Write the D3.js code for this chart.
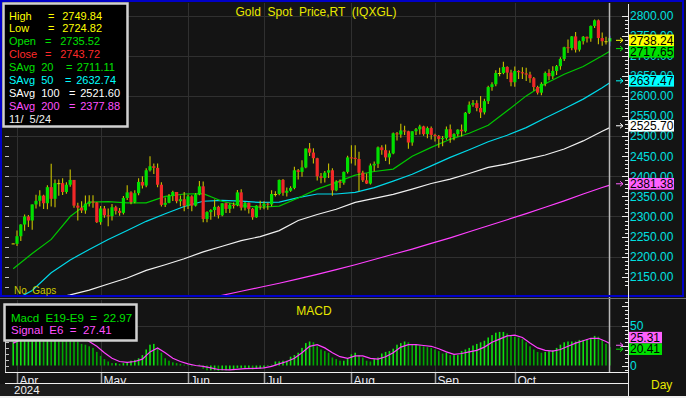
<!DOCTYPE html>
<html>
<head>
<meta charset="utf-8">
<script src="https://cdn.jsdelivr.net/npm/d3@7"></script>
<style>
html, body { margin: 0; padding: 0; background: #f0f0f0; }
svg { display: block; font-family: "Liberation Sans", Arial, sans-serif; }
</style>
</head>
<body>
<div id="chart"></div>
<script>
// ---- data (bar 0 = Mar 29, then trading days Apr 1 .. Nov 5 2024) ----
const monthNames = ["Apr", "May", "Jun", "Jul", "Aug", "Sep", "Oct", "Nov"];
const monthDays = [22, 23, 20, 23, 22, 21, 23, 3];

const open = [2233,
  2232,2251,2280,2300,2290,2330,2339,2352,2333,2373,2344,2383,2383,2361,2379,2391,2327,2322,2315,2332,2337,2335,
  2286,2320,2303,2301,2323,2314,2309,2346,2360,2336,2358,2386,2377,2415,2425,2421,2379,2329,2334,2351,2361,2338,2343,
  2327,2350,2327,2355,2375,2294,2311,2316,2324,2303,2333,2319,2329,2328,2360,2322,2334,2319,2298,2327,
  2326,2332,2330,2356,2356,2391,2359,2364,2371,2415,2411,2422,2469,2459,2445,2400,2396,2409,2415,2365,2387,2384,2411,
  2447,2446,2443,2409,2390,2382,2427,2431,2472,2465,2447,2457,2507,2504,2514,2512,2484,2512,2517,2524,2505,2520,
  2503,2500,2493,2495,2517,2497,2505,2516,2512,2558,2578,2582,2570,2559,2587,2622,2629,2657,2657,2672,2658,
  2634,2662,2659,2656,2653,2644,2622,2608,2630,2657,2649,2662,2674,2692,2721,2719,2748,2715,2736,2747,2743,2774,2788,
  2744,2736,2735.52];
const high = [2233,
  2265,2281,2305,2304,2330,2354,2365,2354,2378,2431,2392,2392,2395,2385,2417,2391,2334,2338,2352,2353,2353,2336,
  2326,2326,2320,2331,2327,2321,2351,2378,2363,2365,2395,2400,2420,2450,2432,2432,2385,2347,2356,2364,2361,2352,2361,
  2354,2353,2358,2388,2387,2313,2318,2342,2327,2333,2334,2333,2335,2366,2368,2336,2335,2321,2328,2339,
  2338,2335,2365,2363,2392,2393,2372,2375,2424,2418,2440,2469,2483,2470,2446,2408,2413,2432,2420,2390,2392,2412,2451,
  2477,2477,2461,2414,2407,2432,2437,2474,2477,2479,2464,2509,2510,2531,2526,2513,2512,2520,2528,2526,2524,2524,
  2506,2503,2500,2524,2529,2507,2517,2529,2560,2586,2590,2589,2600,2593,2625,2634,2664,2670,2685,2674,2665,
  2673,2664,2671,2670,2660,2647,2625,2634,2661,2666,2674,2677,2696,2722,2740,2749,2759,2738,2749,2748,2775,2790,2790,
  2758,2747,2749.84];
const low = [2233,
  2228,2240,2266,2275,2268,2321,2326,2320,2319,2326,2324,2353,2355,2358,2375,2323,2291,2310,2308,2326,2323,2285,
  2281,2298,2277,2291,2306,2303,2306,2342,2332,2334,2354,2371,2374,2413,2407,2374,2326,2325,2334,2340,2334,2327,2314,
  2320,2314,2326,2354,2287,2287,2293,2301,2296,2302,2310,2310,2321,2327,2316,2316,2309,2293,2298,2318,
  2319,2318,2327,2351,2354,2353,2351,2363,2369,2393,2400,2421,2452,2433,2391,2384,2386,2397,2353,2364,2372,2380,2408,
  2433,2428,2364,2387,2382,2381,2414,2422,2455,2439,2431,2456,2490,2497,2504,2470,2477,2504,2505,2502,2496,2493,
  2488,2472,2476,2492,2485,2491,2500,2500,2510,2556,2574,2563,2546,2555,2581,2614,2625,2650,2655,2643,2625,
  2624,2643,2643,2638,2634,2614,2605,2603,2625,2640,2643,2653,2666,2688,2708,2715,2709,2712,2729,2734,2736,2770,2730,
  2726,2729,2724.82];
const close = [2233,
  2251,2280,2300,2290,2330,2339,2352,2333,2373,2344,2383,2383,2361,2379,2391,2327,2322,2315,2332,2337,2335,2286,
  2320,2303,2301,2323,2314,2309,2346,2360,2336,2358,2386,2377,2415,2425,2421,2379,2329,2334,2351,2361,2338,2343,2327,
  2350,2327,2355,2375,2294,2311,2316,2324,2303,2333,2319,2329,2328,2360,2322,2334,2319,2298,2327,2326,
  2332,2330,2356,2356,2391,2359,2364,2371,2415,2411,2422,2469,2459,2445,2400,2396,2409,2415,2365,2387,2384,2411,2447,
  2446,2443,2409,2390,2382,2427,2431,2472,2465,2447,2457,2507,2504,2514,2512,2484,2512,2517,2524,2505,2520,2503,
  2500,2493,2495,2517,2497,2505,2516,2512,2558,2578,2582,2570,2559,2587,2622,2629,2657,2657,2672,2658,2634,
  2662,2659,2656,2653,2644,2622,2608,2630,2657,2649,2662,2674,2692,2721,2719,2748,2715,2736,2747,2743,2774,2788,2744,
  2736,2736,2743.72];

// moving averages at these bars
const maBar = [0,5,10,15,20,25,30,35,40,45,50,55,60,65,70,75,80,85,90,95,100,105,110,115,120,125,130,135,140,145,150,155,157];
const sma20  = [2170,2208,2243,2300,2336,2337,2334,2334,2350,2356,2357,2338,2327,2323,2326,2346,2368,2385,2403,2412,2418,2450,2472,2492,2507,2527,2563,2600,2630,2654,2673,2700,2711];
const sma50  = [2090,2116,2160,2192,2218,2243,2265,2288,2307,2325,2338,2340,2338,2335,2336,2347,2356,2356,2360,2372,2388,2405,2426,2447,2466,2486,2502,2521,2545,2568,2592,2620,2633];
const sma100 = [2075,2085,2095,2105,2117,2132,2147,2166,2180,2195,2212,2226,2240,2250,2265,2290,2305,2318,2335,2345,2355,2368,2382,2393,2407,2422,2431,2442,2453,2468,2488,2512,2521];
const sma200 = [2030,2035,2041,2047,2053,2059,2066,2073,2080,2087,2094,2104,2114,2124,2134,2145,2156,2168,2180,2193,2206,2219,2233,2247,2262,2277,2292,2307,2323,2339,2356,2372,2378];

// MACD histogram, one value per bar
const macd = [30,
  32,36,40,42,45,47,48,46,46,44,44,43,42,41,40,35,30,27,26,24,22,17,
  12,8,5,3,3,2,3,4,6,7,9,13,20,26,27,22,16,9,6,4,3,2,1,
  0,-1,0,1,-4,-6,-6,-6,-7,-6,-6,-5,-5,-3,-3,-3,-3,-5,-4,-4,
  -3,0,1,5,5,6,6,11,13,16,22,28,30,29,24,20,18,16,10,8,6,6,9,
  14,16,13,10,6,5,8,10,15,17,18,21,26,28,30,29,26,26,25,24,23,22,
  20,18,15,16,13,13,13,18,20,22,25,27,29,31,35,38,41,42,42,40,37,
  36,35,33,29,24,20,17,16,17,18,19,22,26,29,30,30,30,32,32,33,34,37,36,
  32,27,23];
// signal line at these bars
const sigBar = [0,4,8,12,16,18,20,22,24,26,28,30,32,34,36,38,40,42,44,46,48,50,52,54,57,61,64,66,68,70,72,74,76,78,80,82,84,86,88,90,92,94,96,98,100,102,104,106,108,110,112,114,116,118,120,122,124,126,128,130,132,134,136,138,140,142,144,146,148,150,152,154,156,157];
const signal = [28,37,44,45,40,36,30,24,16,9,5,4,5,8,17,22,16,9,5,2,0,-1,-3,-5,-5.5,-4,-3.5,-3,-1,2,5,9,16,24,26,22,16,11,9,12,12,9,8,11,16,23,26,26,25,24,21,17,14,15,17,19,23,29,33,37,38,35,28,22,19,18,20,24,28,31,34,34,30,27.4];

// legend rows: label, value, colour, x of "=", right edge of value
const legendRows = [
  ["High", "2749.84", "#ffff00", 48, 102],
  ["Low", "2724.82", "#ffff00", 48, 102],
  ["Open", "2735.52", "#00e000", 45, 100],
  ["Close", "2743.72", "#ff2a2a", 45, 100],
  ["SAvg  20", "2711.11", "#00e000", 66, 115],
  ["SAvg  50", "2632.74", "#00ffff", 65, 116],
  ["SAvg  100", "2521.60", "#ffffff", 69, 120],
  ["SAvg  200", "2377.88", "#ff50ff", 69, 120]
];
const legendDate = "11/  5/24";
const priceTags = [[2738.24, "#ffff00"], [2717.65, "#00e000"], [2637.47, "#00ffff"], [2525.70, "#ffffff"], [2381.38, "#ff60ff"]];
const macdTags = [[25.31, "#ff60ff"], [20.41, "#00e000"]];

// ---- layout ----
const W = 686, H = 398;
const axisX = 628;
const x = d3.scaleLinear().domain([0, 157]).range([13.2, 609.8]);
const y = d3.scaleLinear().domain([2150, 2800]).range([276.8, 15.5]);
const ym = d3.scaleLinear().domain([0, 50]).range([365.5, 325.5]);

const monthStart = [];
let acc = 1;
monthDays.forEach((n, j) => { monthStart.push({ name: monthNames[j], bar: acc }); acc += n; });
const shownMonths = monthStart.slice(0, 7);

const svg = d3.select("#chart").append("svg").attr("width", W).attr("height", H);
svg.append("rect").attr("width", W).attr("height", H).attr("fill", "#f0f0f0");
svg.append("rect").attr("width", W).attr("height", 396).attr("fill", "#141414");

const defs = svg.append("defs");
defs.append("clipPath").attr("id", "mainClip").append("rect").attr("x", 3).attr("y", 3).attr("width", 620).attr("height", 292);
defs.append("clipPath").attr("id", "macdClip").append("rect").attr("x", 6).attr("y", 300).attr("width", 618).attr("height", 71);
defs.append("clipPath").attr("id", "axisClip").append("rect").attr("x", 6).attr("y", 373).attr("width", 620).attr("height", 10);

// grid
const grid = svg.append("g").attr("stroke", "#303030").attr("stroke-width", 1);
d3.range(2200, 2801, 100).forEach(v => {
  grid.append("line").attr("x1", 6).attr("x2", axisX).attr("y1", Math.round(y(v)) + 0.5).attr("y2", Math.round(y(v)) + 0.5);
});
grid.append("line").attr("x1", 6).attr("x2", axisX).attr("y1", Math.round(ym(50)) + 0.5).attr("y2", Math.round(ym(50)) + 0.5);
shownMonths.forEach(m => {
  const gx = Math.round(x(m.bar)) + 0.5;
  grid.append("line").attr("x1", gx).attr("x2", gx).attr("y1", 3).attr("y2", 295);
  grid.append("line").attr("x1", gx).attr("x2", gx).attr("y1", 300).attr("y2", 372);
});

// moving averages
const maLine = vals => d3.line().x((d, j) => x(maBar[j])).y(d => y(d))(vals);
const maG = svg.append("g").attr("clip-path", "url(#mainClip)").attr("fill", "none").attr("stroke-width", 1.2);
[[sma200, "#ff40ff"], [sma100, "#f0f0f0"], [sma50, "#00d8e8"], [sma20, "#00c800"]].forEach(([vals, c]) => {
  maG.append("path").attr("d", maLine(vals)).attr("stroke", c);
});

// candles
const bars = d3.range(close.length);
const lastBar = close.length - 1;
const cg = svg.append("g").attr("clip-path", "url(#mainClip)");
cg.selectAll("line.wick").data(bars).join("line")
  .attr("class", "wick")
  .attr("x1", k => x(k)).attr("x2", k => x(k))
  .attr("y1", k => y(high[k])).attr("y2", k => y(low[k]) + 0.5)
  .attr("stroke", k => k === lastBar ? "#3050ff" : "#c8c000")
  .attr("stroke-width", 1.1);
cg.selectAll("rect.body").data(bars).join("rect")
  .attr("class", "body")
  .attr("x", k => x(k) - 1.6).attr("width", 3.2)
  .attr("y", k => y(Math.max(open[k], close[k])))
  .attr("height", k => Math.max(1, Math.abs(y(open[k]) - y(close[k]))))
  .attr("fill", k => close[k] > open[k] ? "#00e000" : close[k] < open[k] ? "#f02828" : "#d8d000");

// MACD
const mg = svg.append("g").attr("clip-path", "url(#macdClip)");
mg.selectAll("rect").data(bars).join("rect")
  .attr("x", k => x(k) - 0.8).attr("width", 1.6)
  .attr("y", k => Math.min(ym(macd[k]), ym(0)))
  .attr("height", k => Math.max(0.5, Math.abs(ym(macd[k]) - ym(0))))
  .attr("fill", (k) => k > 0 && macd[k] < macd[k - 1] ? "#00a800" : "#10e010");
mg.append("path")
  .attr("d", d3.line().x((d, j) => x(sigBar[j])).y(d => ym(d))(signal))
  .attr("fill", "none").attr("stroke", "#ff40ff").attr("stroke-width", 1.2);

// cursor line
svg.append("line").attr("x1", 609.5).attr("x2", 609.5).attr("y1", 3).attr("y2", 372)
  .attr("stroke", "#b8b8b8").attr("stroke-width", 1.5);

// panel frames
svg.append("rect").attr("x", 1).attr("y", 1).attr("width", 682).attr("height", 295)
  .attr("fill", "none").attr("stroke", "#0000c8").attr("stroke-width", 2);
svg.append("line").attr("x1", 0).attr("x2", W).attr("y1", 298.5).attr("y2", 298.5).attr("stroke", "#707070");

// right axis
const ax = svg.append("g").attr("stroke", "#e8e8e8");
ax.append("line").attr("x1", axisX + 0.5).attr("x2", axisX + 0.5).attr("y1", 4).attr("y2", H);
d3.range(2130, 2801, 10).forEach(v => {
  const ty = Math.round(y(v)) + 0.5;
  ax.append("line").attr("x1", axisX - (v % 50 === 0 ? 6 : 3)).attr("x2", axisX).attr("y1", ty).attr("y2", ty);
});
d3.range(-5, 81, 5).forEach(v => {
  const ty = Math.round(ym(v)) + 0.5;
  ax.append("line").attr("x1", axisX - (v % 25 === 0 ? 6 : 3)).attr("x2", axisX).attr("y1", ty).attr("y2", ty);
});
// left ticks
d3.range(2125, 2801, 25).forEach(v => {
  const ty = Math.round(y(v)) + 0.5;
  ax.append("line").attr("x1", 5).attr("x2", 9).attr("y1", ty).attr("y2", ty).attr("stroke", "#c0c0c0");
});
ax.append("line").attr("x1", 5.5).attr("x2", 5.5).attr("y1", 341).attr("y2", 372).attr("stroke", "#c0c0c0");
d3.range(0, 40, 7.5).forEach(v => {
  const ty = Math.round(ym(v)) + 0.5;
  ax.append("line").attr("x1", 5).attr("x2", 9).attr("y1", ty).attr("y2", ty).attr("stroke", "#c0c0c0");
});

svg.append("g").attr("fill", "#00e0e0").attr("font-size", 12)
  .selectAll("text").data(d3.range(2150, 2801, 50)).join("text")
  .attr("x", 630).attr("y", v => y(v) + 4.3).text(v => v.toFixed(2));
svg.append("g").attr("fill", "#00e0e0").attr("font-size", 12)
  .selectAll("text").data([0, 50]).join("text")
  .attr("x", 630).attr("y", v => ym(v) + 4.3).text(v => v);

// value tags
function drawTags(tags, scale, width, downward) {
  const ys = tags.map(t => scale(t[0]));
  if (downward) {
    for (let j = 1; j < ys.length; j++) ys[j] = Math.max(ys[j], ys[j - 1] + 11.5);
  } else {
    for (let j = ys.length - 2; j >= 0; j--) ys[j] = Math.min(ys[j], ys[j + 1] - 11.5);
  }
  tags.forEach((t, j) => {
    const ay = scale(t[0]);
    svg.append("path").attr("d", `M616,${ay} H623 M620,${ay - 2.5} L623,${ay} L620,${ay + 2.5}`)
      .attr("fill", "none").attr("stroke", t[1]).attr("stroke-width", 1);
    svg.append("rect").attr("x", 629).attr("y", ys[j] - 5.8).attr("width", width).attr("height", 11.6).attr("fill", t[1]);
    svg.append("text").attr("x", 630).attr("y", ys[j] + 4.3).attr("font-size", 12).attr("fill", "#000")
      .text(t[0].toFixed(2));
  });
}
drawTags(priceTags, y, 45, true);
drawTags(macdTags, ym, 33, false);

// x axis strip
const xs = svg.append("g");
xs.append("line").attr("x1", 5).attr("x2", axisX).attr("y1", 372.5).attr("y2", 372.5).attr("stroke", "#f0f0f0");
xs.append("line").attr("x1", 5).attr("x2", axisX).attr("y1", 383.5).attr("y2", 383.5).attr("stroke", "#f0f0f0");
xs.append("rect").attr("x", 0).attr("y", 384).attr("width", axisX).attr("height", 12).attr("fill", "#1c1c1c");
const xl = xs.append("g").attr("clip-path", "url(#axisClip)");
shownMonths.forEach(m => {
  const gx = Math.round(x(m.bar)) + 0.5;
  xl.append("line").attr("x1", gx).attr("x2", gx).attr("y1", 373).attr("y2", 383).attr("stroke", "#a0a0a0").attr("stroke-width", 1.5);
  xl.append("text").attr("x", gx + 2).attr("y", 384.5).attr("font-size", 12).attr("fill", "#e8e8f0").text(m.name);
});
xs.append("text").attr("x", 14).attr("y", 394).attr("font-size", 11.5).attr("fill", "#f0f0f0").text("2024");
svg.append("text").attr("x", 651).attr("y", 388.5).attr("font-size", 12).attr("fill", "#e8e800").text("Day");

// titles
svg.append("text").attr("x", 316).attr("y", 15.5).attr("text-anchor", "middle").attr("font-size", 12)
  .attr("fill", "#e8e800").attr("xml:space", "preserve").text("Gold  Spot  Price,RT  (IQXGL)");
svg.append("text").attr("x", 314).attr("y", 315).attr("text-anchor", "middle").attr("font-size", 12)
  .attr("fill", "#e8e800").text("MACD");
svg.append("text").attr("x", 14).attr("y", 294).attr("font-size", 10).attr("fill", "#c8c800")
  .attr("xml:space", "preserve").text("No  Gaps");

// main legend box
const lg = svg.append("g").attr("font-size", 11);
lg.append("rect").attr("x", 3.5).attr("y", 3.5).attr("width", 124).attr("height", 123)
  .attr("fill", "#000").attr("stroke", "#d0d0d0").attr("stroke-width", 2.5);
legendRows.forEach((r, j) => {
  const by = 19.5 + 12.95 * j;
  lg.append("text").attr("x", 9).attr("y", by).attr("fill", r[2])
    .attr("xml:space", "preserve").text(r[0]);
  lg.append("text").attr("x", r[3]).attr("y", by).attr("fill", r[2]).text("=");
  lg.append("text").attr("x", r[4]).attr("y", by).attr("text-anchor", "end").attr("fill", r[2]).text(r[1]);
});
lg.append("text").attr("x", 9).attr("y", 19.5 + 12.95 * 8).attr("fill", "#f0f0f0")
  .attr("xml:space", "preserve").text(legendDate);

// MACD legend box
const ml = svg.append("g").attr("font-size", 11.5);
ml.append("rect").attr("x", 4.5).attr("y", 304.5).attr("width", 132).attr("height", 36)
  .attr("fill", "#000").attr("stroke", "#d0d0d0").attr("stroke-width", 2.5);
ml.append("text").attr("x", 11).attr("y", 322).attr("fill", "#00e000")
  .attr("xml:space", "preserve").text("Macd  E19-E9  =  22.97");
ml.append("text").attr("x", 11).attr("y", 334).attr("fill", "#ff50ff")
  .attr("xml:space", "preserve").text("Signal  E6  =  27.41");
</script>
</body>
</html>
